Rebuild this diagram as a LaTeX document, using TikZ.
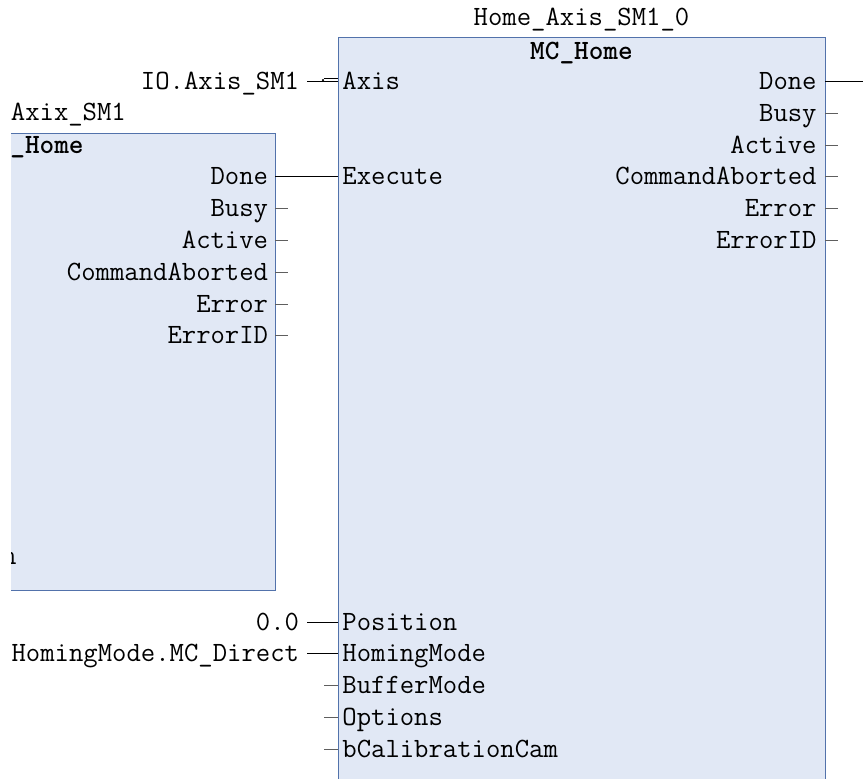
\documentclass[tikz,border=0pt]{standalone}
\usetikzlibrary{positioning}
\definecolor{fbfill}{HTML}{E1E8F5}
\definecolor{fbedge}{HTML}{5272AB}
\definecolor{pingray}{HTML}{5E5E5E}

\begin{document}
\begin{tikzpicture}[x=0.5pt,y=-0.5pt,
  lbl/.style={font=\ttfamily\fontsize{13.95}{16}\selectfont,inner sep=0pt},
  fbox/.style={draw=fbedge,fill=fbfill,line width=0.5pt},
  wire/.style={black,line width=0.5pt},
  stub/.style={pingray,line width=0.5pt},
  srcval/.style={lbl,anchor=base east,outer xsep=4pt}]
  \useasboundingbox (0,0) rectangle (863,778);
  \clip (11,0) rectangle (863,778);
  % function blocks
  \draw[fbox] (-212,133) rectangle (275,590);
  \draw[fbox] (338,37) rectangle (825,800);
  \node[lbl,anchor=base] (instB) at (581.5,25) {Home\_Axis\_SM1\_0};
  \node[lbl,anchor=base] (typeB) at (581.5,59.5) {\bfseries MC\_Home};
  \node[lbl,anchor=base west] (instA) at (10.5,120.5) {Axix\_SM1};
  \node[lbl,anchor=base west] (typeA) at (10,153.5) {\bfseries\_Home};
  \node[lbl,anchor=base east] (inA) at (17,564) {n};
  % outputs
  \foreach \o [count=\k from 0] in {Done,Busy,Active,CommandAborted,Error,ErrorID}{
    \node[lbl,anchor=base east] (oB\k) at (817,{89.5+31.8*\k}) {\o};
    \coordinate (qB\k) at (825,{81.5+31.8*\k});
    \coordinate (sB\k) at (838,{81.5+31.8*\k});
    \node[lbl,anchor=base east] (oA\k) at (268.5,{89.5+31.8*(\k+3)}) {\o};
    \coordinate (qA\k) at (275,{81.5+31.8*(\k+3)});
    \coordinate (sA\k) at (288,{81.5+31.8*(\k+3)});
  }
  \foreach \k in {1,...,5}{
    \draw[stub] (qB\k) -- (sB\k);
    \draw[stub] (qA\k) -- (sA\k);
  }
  % inputs
  \foreach \i/\r in {Axis/0,Execute/3,Position/17,HomingMode/18,BufferMode/19,Options/20,bCalibrationCam/21}{
    \node[lbl,anchor=base west] (i\i) at (342,{89.5+31.8*\r}) {\i};
    \coordinate (p\i) at (338,{81.5+31.8*\r});
    \coordinate (s\i) at (324,{81.5+31.8*\r});
  }
  \foreach \i in {BufferMode,Options,bCalibrationCam}
    \draw[stub] (s\i) -- (p\i);
  % sources
  \node[srcval] (vAxis) at (307,89.5) {IO.Axis\_SM1};
  \node[srcval] (vPos) at (307,{89.5+31.8*17}) {0.0};
  \node[srcval] (vMode) at (307,{89.5+31.8*18}) {HomingMode.MC\_Direct};
  \coordinate (eDone) at (863,81.5);
  \draw[wire] (qB0) -- (eDone);
  \draw[wire] (qA0) -- (pExecute);
  \draw[wire] (vAxis.east |- pAxis) -- (pAxis);
  \draw[wire] (sAxis) ++(0,-2.6) -- ([yshift=1.3pt]pAxis);
  \fill ([xshift=-0.5pt,yshift=0.7pt]sAxis) circle (0.6pt);
  \draw[wire] (vPos.east |- pPosition) -- (pPosition);
  \draw[wire] (vMode.east |- pHomingMode) -- (pHomingMode);
\end{tikzpicture}
\end{document}
